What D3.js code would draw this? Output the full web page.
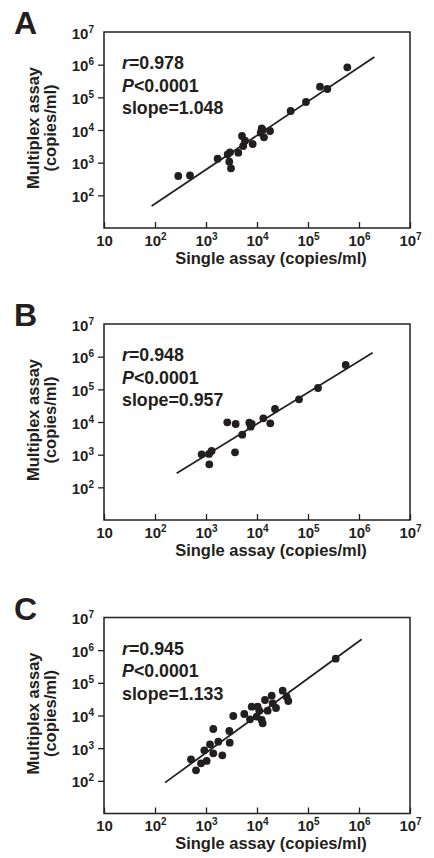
<!DOCTYPE html>
<html>
<head>
<meta charset="utf-8">
<script src="https://cdn.jsdelivr.net/npm/d3@7/dist/d3.min.js"></script>
<style>
  body { margin: 0; background: #fff; }
  svg { display: block; }
  text { font-family: "Liberation Sans", Arial, Helvetica, sans-serif; font-weight: bold; fill: #231f20; }
</style>
</head>
<body>
<script>
// panel letters and correlation stats
var panelLetters = ["A", "B", "C"];
var rValues = ["0.978", "0.948", "0.945"];
var pValues = ["<0.0001", "<0.0001", "<0.0001"];
var slopeValues = ["1.048", "0.957", "1.133"];

// tick values (copies/ml)
var xTicks = [10, 1e2, 1e3, 1e4, 1e5, 1e6, 1e7];
var yTicks = [1e2, 1e3, 1e4, 1e5, 1e6, 1e7];

// panel A: single assay vs multiplex assay
var singleA = [286, 485, 1690, 2660, 2950, 2860, 3090, 4300, 5080, 5370, 5820, 8220,
  12360, 11800, 13710, 17990, 12900, 45700, 91200, 171800, 239300, 590200];
var multiA = [391, 407, 1320, 1800, 2080, 1070, 673, 2020, 6560, 3240, 4710, 3730,
  11270, 8280, 5980, 9330, 10000, 38200, 71900, 211800, 179900, 829800];
var fitA = [[86, 47], [2.0e6, 1.72e6]];

// panel B
var singleB = [822, 1146, 1288, 1161, 2618, 3819, 3707, 5152, 7063, 7870, 7516,
  13300, 18240, 22540, 66680, 157000, 548300];
var multiB = [1026, 1050, 1297, 507, 9772, 8690, 1183, 4093, 9528, 8690, 7194,
  12970, 9120, 25000, 49550, 109900, 555900];
var fitB = [[266, 269], [1.85e6, 1.32e6]];

// panel C
var singleC = [508, 637, 798, 1030, 927, 1197, 1390, 1390, 1742, 2089, 2864, 2917,
  3428, 5636, 7295, 7870, 9863, 10300, 11090, 12360, 12910, 14350, 16180, 19410,
  20280, 23600, 31840, 38190, 41110, 349100];
var multiC = [457, 210, 344, 406, 861, 1312, 697, 3864, 1581, 605, 3357, 1472,
  9660, 11120, 7656, 18620, 9204, 18620, 14030, 7295, 5768, 29850, 14030, 40460,
  23660, 16980, 57540, 37670, 27800, 548300];
var fitC = [[157, 88], [1.13e6, 2.15e6]];

var W = 434, H = 858;
var plotLeft = 104, plotWidth = 306, plotHeight = 196;
var panelTops = [32, 324, 617.5];
var ink = "#231f20";

var svg = d3.select("body").append("svg")
  .attr("width", W)
  .attr("height", H);

function expOf(v) {
  return Math.round(Math.log10(v));
}

function writePower(sel, v) {
  sel.text(null);
  sel.append("tspan").text("10");
  var e = expOf(v);
  if(e > 1) {
    sel.append("tspan")
      .attr("dy", -6)
      .attr("font-size", 10)
      .text(e);
  }
}

function drawPanel(i, xs, ys, fit) {
  var top = panelTops[i];
  var g = svg.append("g").attr("transform", "translate(" + plotLeft + "," + top + ")");

  var x = d3.scaleLog().domain([10, 1e7]).range([0, plotWidth]);
  var y = d3.scaleLog().domain([10, 1e7]).range([plotHeight, 0]);

  // x axis, ticks pointing in
  var xAxis = g.append("g")
    .attr("transform", "translate(0," + plotHeight + ")")
    .call(d3.axisBottom(x).tickValues(xTicks).tickSizeInner(-6).tickSizeOuter(0));
  xAxis.select(".domain").remove();
  xAxis.selectAll(".tick line").attr("stroke", ink).attr("stroke-width", 1.3);
  xAxis.selectAll(".tick text")
    .attr("y", 17.5)
    .attr("dy", null)
    .attr("font-size", 15)
    .attr("fill", ink)
    .each(function(d) { writePower(d3.select(this), d); });

  // y axis, ticks pointing out
  var yAxis = g.append("g")
    .call(d3.axisLeft(y).tickValues(yTicks).tickSizeInner(6).tickSizeOuter(0));
  yAxis.select(".domain").remove();
  yAxis.selectAll(".tick line")
    .attr("stroke", ink)
    .attr("stroke-width", 1.3)
    .attr("display", function(d) { return d >= 1e7 ? "none" : null; });
  yAxis.selectAll(".tick text")
    .attr("x", -10)
    .attr("y", 6)
    .attr("dy", null)
    .attr("font-size", 15)
    .attr("fill", ink)
    .each(function(d) { writePower(d3.select(this), d); });

  // frame
  g.append("rect")
    .attr("x", 0)
    .attr("y", 0)
    .attr("width", plotWidth)
    .attr("height", plotHeight)
    .attr("fill", "none")
    .attr("stroke", ink)
    .attr("stroke-width", 1.5);

  // fitted line
  g.append("line")
    .attr("x1", x(fit[0][0]))
    .attr("y1", y(fit[0][1]))
    .attr("x2", x(fit[1][0]))
    .attr("y2", y(fit[1][1]))
    .attr("stroke", ink)
    .attr("stroke-width", 1.8);

  // points
  g.selectAll("circle.pt")
    .data(xs.map(function(v, k) { return [v, ys[k]]; }))
    .enter().append("circle")
    .attr("class", "pt")
    .attr("cx", function(d) { return x(d[0]); })
    .attr("cy", function(d) { return y(d[1]); })
    .attr("r", 3.9)
    .attr("fill", ink);

  // stats
  var st = g.append("g").attr("transform", "translate(18,0)");
  var t1 = st.append("text").attr("y", 37).attr("font-size", 17.8);
  t1.append("tspan").attr("font-style", "italic").text("r");
  t1.append("tspan").text("=" + rValues[i]);
  var t2 = st.append("text").attr("y", 59.5).attr("font-size", 17.8);
  t2.append("tspan").attr("font-style", "italic").text("P");
  t2.append("tspan").text(pValues[i]);
  st.append("text").attr("y", 82).attr("font-size", 17.8).text("slope=" + slopeValues[i]);

  // axis titles
  g.append("text")
    .attr("x", 167)
    .attr("y", plotHeight + 35.5)
    .attr("text-anchor", "middle")
    .attr("font-size", 16.5)
    .text("Single assay (copies/ml)");
  var yt = g.append("text")
    .attr("transform", "translate(-65," + (plotHeight / 2 - 2) + ") rotate(-90)")
    .attr("text-anchor", "middle")
    .attr("font-size", 16.5);
  yt.append("tspan").attr("x", 0).attr("y", 0).text("Multiplex assay");
  yt.append("tspan").attr("x", 0).attr("y", 17).text("(copies/ml)");

  // panel letter
  svg.append("text")
    .attr("x", 14)
    .attr("y", top + 2)
    .attr("font-size", 32)
    .text(panelLetters[i]);
} // drawPanel

drawPanel(0, singleA, multiA, fitA);
drawPanel(1, singleB, multiB, fitB);
drawPanel(2, singleC, multiC, fitC);
</script>
</body>
</html>
